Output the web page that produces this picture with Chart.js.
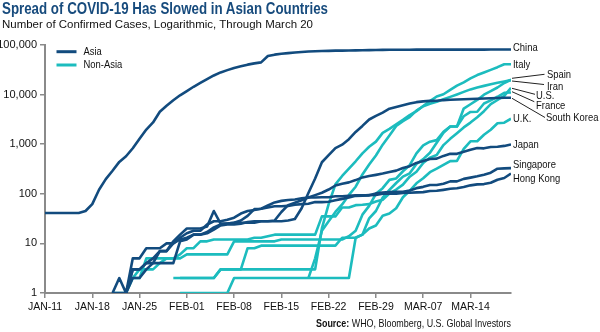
<!DOCTYPE html>
<html>
<head>
<meta charset="utf-8">
<script src="https://cdn.jsdelivr.net/npm/chart.js@4.4.1/dist/chart.umd.min.js"></script>
<style>
html,body{margin:0;padding:0;background:#fff;}
#wrap{position:relative;width:600px;height:332px;overflow:hidden;background:#fff;}
#c{position:absolute;left:0;top:0;width:600px;height:332px;}
.txt{position:absolute;white-space:nowrap;transform-origin:0 0;line-height:1;}
#title{left:2px;top:0px;font-weight:bold;font-size:17px;color:#174b7d;}
#sub{left:2px;top:19px;font-size:11px;color:#111;}
#src{left:316px;top:318px;font-size:10.5px;color:#111;}
</style>
</head>
<body>
<div id="wrap">
<canvas id="c" width="600" height="332"></canvas>
<div id="title" class="txt">Spread of COVID-19 Has Slowed in Asian Countries</div>
<div id="sub" class="txt">Number of Confirmed Cases, Logarithmic, Through March 20</div>
<div id="src" class="txt"><b>Source:</b> WHO, Bloomberg, U.S. Global Investors</div>
</div>
<script>
// ---------------- DATA (daily, Jan 11 -> Mar 20, 2020) ----------------
const N = null;
const xTickDays   = [0, 7, 14, 21, 28, 35, 42, 49, 56, 63];
const xTickLabels = ['JAN-11','JAN-18','JAN-25','FEB-01','FEB-08','FEB-15','FEB-22','FEB-29','MAR-07','MAR-14'];
const yTickValues = [1, 10, 100, 1000, 10000, 100000];
const lastDay = 69;

const china = [41,41,41,41,41,41,45,62,121,198,
  291,440,571,830,1287,1975,2744,4515,5974,7711,
  9692,11791,14380,17205,20438,24324,28018,31161,34546,37198,
  40171,42638,44653,59804,63851,66492,68500,70548,72436,74185,
  74576,75465,76288,76936,77150,77658,78064,78497,78824,79251,
  79824,80026,80151,80270,80409,80552,80651,80695,80735,80754,
  80778,80793,80813,80824,80844,80860,80881,80894,80928,80967];

const southKorea = [N,N,N,N,N,N,N,N,N,N,
  1,1,1,2,2,3,4,4,4,4,
  11,12,15,15,16,19,23,24,24,25,
  27,28,28,28,28,28,29,31,51,104,
  204,433,602,833,977,1261,1766,2337,3150,3736,
  4335,5186,5621,6088,6593,7041,7314,7478,7513,7755,
  7869,7979,8086,8162,8236,8320,8413,8565,8652,8652];

const japan = [N,N,N,N,N,N,N,N,N,N,
  N,N,1,3,3,4,4,7,7,11,
  15,20,20,20,22,45,25,25,26,26,
  26,26,28,28,29,43,59,66,74,84,
  94,105,122,147,159,170,189,214,228,241,
  256,274,293,331,360,420,461,502,511,581,
  639,639,701,773,839,825,878,889,924,990];

const singapore = [N,N,N,N,N,N,N,N,N,N,
  N,N,1,3,3,4,5,7,7,10,
  13,16,18,18,24,28,28,30,33,40,
  45,47,50,58,67,72,75,77,81,84,
  84,85,85,89,89,91,93,93,93,102,
  106,108,110,110,117,130,138,150,150,160,
  178,178,200,212,226,243,266,320,325,330];

const hongKong = [N,N,N,N,N,N,N,N,N,N,
  1,2,1,5,5,8,8,8,10,10,
  12,13,15,15,17,21,24,25,26,29,
  36,49,50,53,56,56,57,60,62,63,
  68,68,69,74,79,84,91,92,94,95,
  100,100,100,104,105,107,108,114,115,120,
  126,129,137,148,155,157,167,192,208,256];

const italy = [N,N,N,N,N,N,N,N,N,N,
  N,N,N,N,N,N,N,N,N,2,
  2,2,2,2,2,2,3,3,3,3,
  3,3,3,3,3,3,3,3,3,3,
  3,20,62,155,229,322,453,655,888,1128,
  1694,2036,2502,3089,3858,4636,5883,7375,9172,10149,
  12462,15113,17660,21157,24747,27980,31506,35713,41035,41035];

const spain = [N,N,N,N,N,N,N,N,N,N,
  N,N,N,N,N,N,N,N,N,N,
  1,1,1,1,1,1,1,1,2,2,
  2,2,2,2,2,2,2,2,2,2,
  2,2,2,2,2,2,13,15,32,45,
  84,120,165,222,259,400,500,673,1073,1695,
  2277,2277,5232,6391,7798,9942,11748,13910,17147,19980];

const iran = [N,N,N,N,N,N,N,N,N,N,
  N,N,N,N,N,N,N,N,N,N,
  N,N,N,N,N,N,N,N,N,N,
  N,N,N,N,N,N,N,N,N,2,
  5,18,28,43,61,95,139,245,388,593,
  978,1501,2336,2922,3513,4747,5823,6566,7161,8042,
  9000,10075,11364,12729,13938,14991,16169,17361,18407,19644];

const us = [N,N,N,N,N,N,N,N,N,N,
  1,1,1,2,2,5,5,5,5,5,
  6,8,8,11,11,12,12,12,12,12,
  12,13,13,14,15,15,15,15,15,15,
  15,35,35,35,53,53,59,60,62,70,
  76,101,122,153,221,278,417,537,605,959,
  1281,1663,2179,2726,3499,4632,6421,7783,9415,13677];

const france = [N,N,N,N,N,N,N,N,N,N,
  N,N,N,2,3,3,3,4,5,5,
  5,6,6,6,6,6,6,6,11,11,
  11,11,11,11,11,12,12,12,12,12,
  12,12,12,12,12,14,18,38,57,100,
  130,191,204,285,377,653,949,1126,1209,1784,
  2281,2281,3661,4469,4499,6633,7652,9043,10871,10995];

const uk = [N,N,N,N,N,N,N,N,N,N,
  N,N,N,N,N,N,N,N,N,N,
  2,2,2,2,2,2,3,3,3,3,
  8,8,9,9,9,9,9,9,9,9,
  9,9,9,9,13,13,13,15,20,23,
  36,40,51,85,115,163,206,273,321,382,
  456,459,802,1144,1145,1551,1960,2642,2716,3269];

const asiaSeries    = ['China','South Korea','Japan','Singapore','Hong Kong'];
const asiaValues    = [china, southKorea, japan, singapore, hongKong];
const nonAsiaSeries = ['Italy','Spain','Iran','U.S.','France','U.K.'];
const nonAsiaValues = [italy, spain, iran, us, france, uk];
const legendLabels  = ['Asia','Non-Asia'];

// ---------------- STYLE ----------------
const ASIA = '#124b7e';
const NONASIA = '#1cbcbe';

function hasFont(f){
  const c = document.createElement('canvas').getContext('2d');
  const t = 'abcdefghijklmnopqrstuvwxyzABCDEF0123456789';
  c.font = '40px monospace'; const a = c.measureText(t).width;
  c.font = '40px "' + f + '", monospace'; const b = c.measureText(t).width;
  return Math.abs(a - b) > 0.5;
}
const NARROW_OK = hasFont('Liberation Sans Narrow');
const FAM = NARROW_OK ? '"Liberation Sans Narrow", "Liberation Sans", Arial, sans-serif'
                      : '"Liberation Sans", Arial, sans-serif';
const SQUEEZE = NARROW_OK ? 1 : 0.82;
document.querySelectorAll('.txt').forEach(el => el.style.fontFamily = FAM);

function fit(id, targetW, rightEdge){
  const el = document.getElementById(id);
  const w = el.getBoundingClientRect().width;
  el.style.transform = 'scaleX(' + (targetW / w) + ')';
  if (rightEdge != null) el.style.left = (rightEdge - targetW) + 'px';
}
fit('title', 326);
fit('sub', 311);
fit('src', 195, 511);

function toPoints(arr){
  const out = [];
  arr.forEach((v, i) => { if (v !== null) out.push({x: i, y: v}); });
  return out;
}
const datasets = [];
asiaSeries.forEach((n, k) => datasets.push({label: n, data: toPoints(asiaValues[k]), borderColor: ASIA}));
nonAsiaSeries.forEach((n, k) => datasets.push({label: n, data: toPoints(nonAsiaValues[k]), borderColor: NONASIA}));
datasets.forEach(d => Object.assign(d, {borderWidth: 2.6, pointRadius: 0, tension: 0, fill: false,
  borderJoinStyle: 'round', borderCapStyle: 'butt'}));

function txt(ctx, s, x, y, size, color, align){
  ctx.save();
  ctx.font = size + 'px ' + FAM;
  ctx.fillStyle = color || '#111';
  ctx.textBaseline = 'middle';
  ctx.textAlign = align || 'left';
  ctx.translate(x, y);
  ctx.scale(SQUEEZE, 1);
  ctx.fillText(s, 0, 0);
  ctx.restore();
}

const endLabels = [
  ['China', 513, 48], ['Italy', 513, 64.5], ['Spain', 547, 74.5], ['Iran', 547, 86.5],
  ['U.S.', 536, 96], ['France', 536, 105.5], ['South Korea', 546, 118], ['U.K.', 513, 118.5],
  ['Japan', 513, 144.5], ['Singapore', 513, 165], ['Hong Kong', 513, 178.5]
];
const leaders = [
  [512, 78.3, 544.5, 74.3], [512, 81, 544, 84.5], [512, 88.3, 535, 94.3],
  [512, 91.7, 534.3, 101.7], [512, 98.3, 545, 117.5]
];

const annot = {
  id: 'annot',
  afterDraw(chart){
    const ctx = chart.ctx;
    // legend
    [[ASIA, 51.7], [NONASIA, 65]].forEach((p, i) => {
      ctx.save(); ctx.strokeStyle = p[0]; ctx.lineWidth = 3;
      ctx.beginPath(); ctx.moveTo(56.5, p[1]); ctx.lineTo(76.5, p[1]); ctx.stroke(); ctx.restore();
      txt(ctx, legendLabels[i], 83.5, p[1], 11.5, '#111');
    });
    // leader lines
    ctx.save(); ctx.strokeStyle = '#222'; ctx.lineWidth = 1;
    leaders.forEach(l => { ctx.beginPath(); ctx.moveTo(l[0], l[1]); ctx.lineTo(l[2], l[3]); ctx.stroke(); });
    ctx.restore();
    endLabels.forEach(l => txt(ctx, l[0], l[1], l[2], 11.5, '#111'));
  }
};

new Chart(document.getElementById('c'), {
  type: 'line',
  data: {datasets},
  plugins: [annot],
  options: {
    responsive: false, animation: false, devicePixelRatio: 1,
    layout: {padding: {left: 0, right: 89, top: 45, bottom: 12}},
    plugins: {legend: {display: false}, tooltip: {enabled: false}, title: {display: false}},
    scales: {
      x: {
        type: 'linear', min: 0, max: lastDay,
        afterBuildTicks: s => { s.ticks = xTickDays.map(v => ({value: v})); },
        afterFit: s => { s.height = 27; },
        ticks: {callback: (v, i) => xTickLabels[i], font: {family: FAM, size: 10.5}, color: '#111',
                padding: 3, maxRotation: 0, autoSkip: false},
        grid: {drawOnChartArea: false, drawTicks: true, tickLength: 5, color: '#8a8a8a', lineWidth: 1.5},
        border: {display: true, color: '#8a8a8a', width: 2}
      },
      y: {
        type: 'logarithmic', min: 1, max: 100000,
        afterBuildTicks: s => { s.ticks = yTickValues.map(v => ({value: v})); },
        afterFit: s => { s.width = 45; },
        ticks: {callback: v => Number(v).toLocaleString('en-US'), font: {family: FAM, size: 11}, color: '#111',
                padding: 3, autoSkip: false},
        grid: {drawOnChartArea: false, drawTicks: true, tickLength: 5, color: '#8a8a8a', lineWidth: 1.5},
        border: {display: true, color: '#8a8a8a', width: 2}
      }
    }
  }
});
</script>
</body>
</html>
